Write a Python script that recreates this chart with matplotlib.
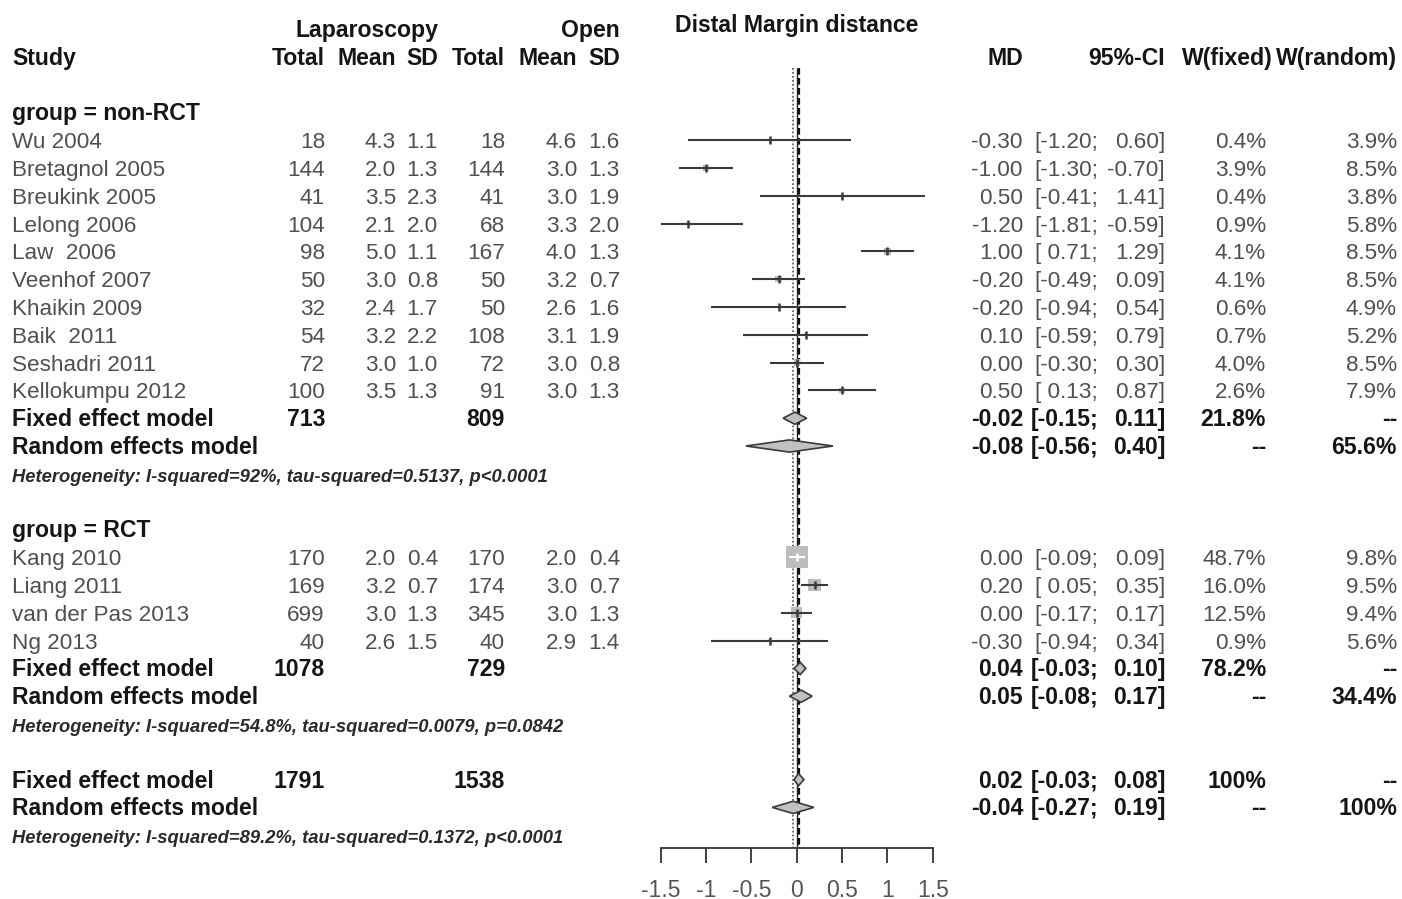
import numpy as np
import matplotlib
matplotlib.use("Agg")
import matplotlib.pyplot as plt
from matplotlib.patches import Polygon
from matplotlib.ticker import FixedLocator, FuncFormatter

plt.rcParams['font.family'] = ['Liberation Sans', 'DejaVu Sans']

# ---------------- data ----------------
studies_g1 = ["Wu 2004", "Bretagnol 2005", "Breukink 2005", "Lelong 2006", "Law  2006",
              "Veenhof 2007", "Khaikin 2009", "Baik  2011", "Seshadri 2011", "Kellokumpu 2012"]
lap_n_g1 = [18, 144, 41, 104, 98, 50, 32, 54, 72, 100]
lap_mean_g1 = [4.3, 2.0, 3.5, 2.1, 5.0, 3.0, 2.4, 3.2, 3.0, 3.5]
lap_sd_g1 = [1.1, 1.3, 2.3, 2.0, 1.1, 0.8, 1.7, 2.2, 1.0, 1.3]
open_n_g1 = [18, 144, 41, 68, 167, 50, 50, 108, 72, 91]
open_mean_g1 = [4.6, 3.0, 3.0, 3.3, 4.0, 3.2, 2.6, 3.1, 3.0, 3.0]
open_sd_g1 = [1.6, 1.3, 1.9, 2.0, 1.3, 0.7, 1.6, 1.9, 0.8, 1.3]
md_g1 = [-0.30, -1.00, 0.50, -1.20, 1.00, -0.20, -0.20, 0.10, 0.00, 0.50]
lo_g1 = [-1.20, -1.30, -0.41, -1.81, 0.71, -0.49, -0.94, -0.59, -0.30, 0.13]
hi_g1 = [0.60, -0.70, 1.41, -0.59, 1.29, 0.09, 0.54, 0.79, 0.30, 0.87]
wfix_g1 = [0.4, 3.9, 0.4, 0.9, 4.1, 4.1, 0.6, 0.7, 4.0, 2.6]
wran_g1 = [3.9, 8.5, 3.8, 5.8, 8.5, 8.5, 4.9, 5.2, 8.5, 7.9]

studies_g2 = ["Kang 2010", "Liang 2011", "van der Pas 2013", "Ng 2013"]
lap_n_g2 = [170, 169, 699, 40]
lap_mean_g2 = [2.0, 3.2, 3.0, 2.6]
lap_sd_g2 = [0.4, 0.7, 1.3, 1.5]
open_n_g2 = [170, 174, 345, 40]
open_mean_g2 = [2.0, 3.0, 3.0, 2.9]
open_sd_g2 = [0.4, 0.7, 1.3, 1.4]
md_g2 = [0.00, 0.20, 0.00, -0.30]
lo_g2 = [-0.09, 0.05, -0.17, -0.94]
hi_g2 = [0.09, 0.35, 0.17, 0.34]
wfix_g2 = [48.7, 16.0, 12.5, 0.9]
wran_g2 = [9.8, 9.5, 9.4, 5.6]

# summaries: [group1, group2, overall]
sum_lap_n = [713, 1078, 1791]
sum_open_n = [809, 729, 1538]
fixed_md = [-0.02, 0.04, 0.02]
fixed_lo = [-0.15, -0.03, -0.03]
fixed_hi = [0.11, 0.10, 0.08]
fixed_w = [21.8, 78.2, 100]
random_md = [-0.08, 0.05, -0.04]
random_lo = [-0.56, -0.08, -0.27]
random_hi = [0.40, 0.17, 0.19]
random_w = [65.6, 34.4, 100]
het_text = ["Heterogeneity: I-squared=92%, tau-squared=0.5137, p<0.0001",
            "Heterogeneity: I-squared=54.8%, tau-squared=0.0079, p=0.0842",
            "Heterogeneity: I-squared=89.2%, tau-squared=0.1372, p<0.0001"]
group_labels = ["group = non-RCT", "group = RCT"]
xticks = [-1.5, -1, -0.5, 0, 0.5, 1, 1.5]

# ---------------- layout ----------------
W, H = 1402, 899
ROW0_PX, ROW_H = 29.0, 27.8


def row_of_px(p):
    return 1 + (p - ROW0_PX) / ROW_H


Y_TOP, Y_BOT = row_of_px(0), row_of_px(H)
BASE = 0.29  # baseline offset (rows) below row center

fig = plt.figure(figsize=(W / 100, H / 100), dpi=100)
ax_t = fig.add_axes([0, 0, 1, 1])
ax_t.set_xlim(0, W)
ax_t.set_ylim(Y_BOT, Y_TOP)
ax_t.axis('off')

FX0, FX1 = 660.7, 932.7
ax_f = fig.add_axes([FX0 / W, 0, (FX1 - FX0) / W, 1])
ax_f.set_xlim(-1.5, 1.5)
ax_f.set_ylim(Y_BOT, Y_TOP)
ax_f.patch.set_alpha(0)
for s in ['top', 'left', 'right']:
    ax_f.spines[s].set_visible(False)
axis_row = row_of_px(848)
ax_f.spines['bottom'].set_position(('data', axis_row))
ax_f.spines['bottom'].set_bounds(-1.5, 1.5)
ax_f.spines['bottom'].set_color('#333333')
ax_f.spines['bottom'].set_linewidth(1.3)
ax_f.set_yticks([])
ax_f.xaxis.set_major_locator(FixedLocator(xticks))
ax_f.xaxis.set_major_formatter(FuncFormatter(lambda v, p: f"{v:g}"))
ax_f.tick_params(axis='x', direction='out', length=11, width=1.3, color='#333333',
                 labelsize=16.5, labelcolor='#555555', pad=11)

GRAY = '#505050'
BLACK = '#151515'
FS = 16.2
FSB = 16.6


def txt(x, r, s, ha='right', bold=False, color=None, size=None, style='normal'):
    if size is None:
        size = FSB if bold else FS
    ax_t.text(x, r + BASE, s, ha=ha, va='baseline', fontsize=size,
              fontweight='bold' if bold else 'normal', fontstyle=style,
              color=color if color else (BLACK if bold else GRAY))


# columns (right edges)
C_NAME, C_LN, C_LM, C_LS, C_ON, C_OM, C_OS = 12, 325, 396, 438, 505, 577, 620
C_MD, C_LO, C_HI, C_WF, C_WR = 1023, 1098, 1165, 1266, 1397

# headers
ax_t.text(797, 0.80 + BASE, "Distal Margin distance", ha='center', va='baseline',
          fontsize=FSB, fontweight='bold', color=BLACK)
txt(C_LS, 1, "Laparoscopy", bold=True)
txt(C_OS, 1, "Open", bold=True)
txt(C_NAME, 2, "Study", ha='left', bold=True)
for x, s in [(C_LN, "Total"), (C_LM, "Mean"), (C_LS, "SD"), (C_ON, "Total"),
             (C_OM, "Mean"), (C_OS, "SD"), (C_MD, "MD"), (C_HI, "95%-CI"),
             (1273, "W(fixed)"), (C_WR, "W(random)")]:
    txt(x, 2, s, bold=True)


def fmt_lo(v):
    return "[" + (f"{v:.2f}" if v < 0 else f" {v:.2f}") + ";"


def fmt_w(v):
    return "100%" if v == 100 else f"{v:.1f}%"


groups = [
    (studies_g1, lap_n_g1, lap_mean_g1, lap_sd_g1, open_n_g1, open_mean_g1, open_sd_g1,
     md_g1, lo_g1, hi_g1, wfix_g1, wran_g1),
    (studies_g2, lap_n_g2, lap_mean_g2, lap_sd_g2, open_n_g2, open_mean_g2, open_sd_g2,
     md_g2, lo_g2, hi_g2, wfix_g2, wran_g2),
]

px_per_unit = (FX1 - FX0) / 3.0
K_SQ = 5.3  # marker area (pt^2) per % weight

LINE_C = '#3a3a3a'
SQ_C = '#bdbdbd'
DIA_FC = '#c0c0c0'
DIA_EC = '#3a3a3a'
DH = 0.22
HET_FS = 13.2


def diamond(r, est, lo, hi):
    ax_f.add_patch(Polygon([(lo, r), (est, r - DH), (hi, r), (est, r + DH)], closed=True,
                           facecolor=DIA_FC, edgecolor=DIA_EC, linewidth=1.2, zorder=4))


def summary_rows(row, gi):
    txt(C_NAME, row, "Fixed effect model", ha='left', bold=True)
    txt(C_LN, row, f"{sum_lap_n[gi]}", bold=True)
    txt(C_ON, row, f"{sum_open_n[gi]}", bold=True)
    txt(C_MD, row, f"{fixed_md[gi]:.2f}", bold=True)
    txt(C_LO, row, fmt_lo(fixed_lo[gi]), bold=True)
    txt(C_HI, row, f"{fixed_hi[gi]:.2f}]", bold=True)
    txt(C_WF, row, fmt_w(fixed_w[gi]), bold=True)
    txt(C_WR, row, "--", bold=True)
    diamond(row, fixed_md[gi], fixed_lo[gi], fixed_hi[gi])
    row += 1
    txt(C_NAME, row, "Random effects model", ha='left', bold=True)
    txt(C_MD, row, f"{random_md[gi]:.2f}", bold=True)
    txt(C_LO, row, fmt_lo(random_lo[gi]), bold=True)
    txt(C_HI, row, f"{random_hi[gi]:.2f}]", bold=True)
    txt(C_WF, row, "--", bold=True)
    txt(C_WR, row, fmt_w(random_w[gi]), bold=True)
    diamond(row, random_md[gi], random_lo[gi], random_hi[gi])
    row += 1
    txt(C_NAME, row, het_text[gi], ha='left', bold=True, style='italic', size=HET_FS,
        color='#2a2a2a')
    return row


row = 4
for gi, g in enumerate(groups):
    names, ln, lm, ls, on, om, os_, md, lo, hi, wf, wr = g
    txt(C_NAME, row, group_labels[gi], ha='left', bold=True)
    row += 1
    rows = []
    for i in range(len(names)):
        r = row + i
        rows.append(r)
        txt(C_NAME, r, names[i], ha='left')
        txt(C_LN, r, f"{ln[i]}")
        txt(C_LM, r, f"{lm[i]:.1f}")
        txt(C_LS, r, f"{ls[i]:.1f}")
        txt(C_ON, r, f"{on[i]}")
        txt(C_OM, r, f"{om[i]:.1f}")
        txt(C_OS, r, f"{os_[i]:.1f}")
        txt(C_MD, r, f"{md[i]:.2f}")
        txt(C_LO, r, fmt_lo(lo[i]))
        txt(C_HI, r, f"{hi[i]:.2f}]")
        txt(C_WF, r, fmt_w(wf[i]))
        txt(C_WR, r, fmt_w(wr[i]))
    rows = np.array(rows, dtype=float)
    md_a, lo_a, hi_a, wf_a = map(np.asarray, (md, lo, hi, wf))
    sizes = K_SQ * wf_a
    side_units = np.sqrt(sizes) / 72 * 100 / px_per_unit
    inside = (hi_a - lo_a) < side_units
    ax_f.scatter(md_a, rows, s=sizes, marker='s', color=SQ_C, edgecolors='none', zorder=2)
    cols = np.where(inside, 'white', LINE_C)
    ax_f.hlines(rows, lo_a, hi_a, colors=cols, linewidth=1.5, zorder=3)
    for x, y, c in zip(md_a, rows, cols):
        ax_f.plot([x], [y], marker='|', markersize=6, markeredgewidth=1.8, color=c, zorder=3)
    row += len(names)
    row = summary_rows(row, gi)
    row += 2

# overall
summary_rows(row, 2)

# reference lines: null effect, overall fixed (dashed), overall random (dotted)
top_row = row_of_px(68)
ax_f.vlines(0, top_row, axis_row, colors='#222222', linewidth=1.0, zorder=1)
ax_f.vlines(fixed_md[2], top_row, axis_row, colors='#111111', linewidth=1.6,
            linestyles=(0, (3, 1.5)), zorder=1)
ax_f.vlines(random_md[2], top_row, axis_row, colors='#666666', linewidth=1.3,
            linestyles=(0, (1, 1.2)), zorder=1)

fig.savefig("out.png", dpi=100)
